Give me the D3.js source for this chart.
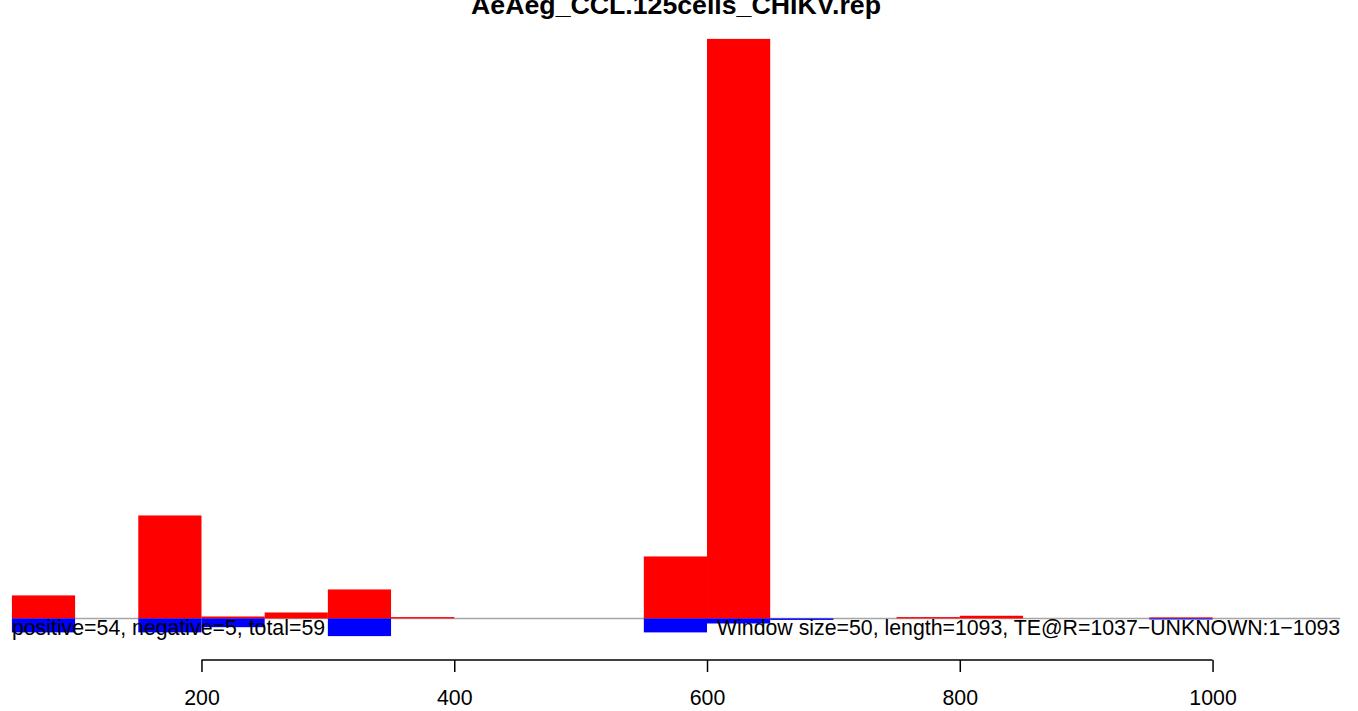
<!DOCTYPE html>
<html>
<head>
<meta charset="utf-8">
<script src="https://cdn.jsdelivr.net/npm/d3@7"></script>
<style>
  html, body { margin: 0; padding: 0; background: #ffffff; }
  svg { display: block; font-family: "Liberation Sans", Arial, Helvetica, sans-serif; }
</style>
</head>
<body>
<svg id="chart" width="1358" height="711"></svg>
<script>
// ---- data ----
const chartTitle = "AeAeg_CCL.125cells_CHIKV.rep";
const windowSize = 50;
const binStarts = [50, 100, 150, 200, 250, 300, 350, 400, 450, 500, 550, 600, 650, 700, 750, 800, 850, 900, 950, 1000, 1050];
const positiveValues = [1.55, 0, 6.93, 0.13, 0.40, 1.95, 0.09, 0, 0, 0, 4.17, 39, 0, 0, 0.09, 0.18, 0, 0, 0.07, 0, 0];
const negativeValues = [0.94, 0, 0.94, 0.59, 0, 1.19, 0, 0, 0, 0, 0.94, 0.34, 0.10, 0, 0, 0, 0, 0, 0.07, 0, 0];
const xTickValues = [200, 400, 600, 800, 1000];
const xDomain = [50, 1101];
const leftNote = "positive=54, negative=5, total=59";
const rightNote = "Window size=50, length=1093, TE@R=1037\u2212UNKNOWN:1\u22121093";

// ---- layout ----
const W = 1358, H = 711;
const plot = { left: 11.9, right: 1340.2, top: 15, bottom: 660 };
const baseFont = 21.3;

const svg = d3.select("#chart");

const x = d3.scaleLinear().domain(xDomain).range([plot.left, plot.right]);

const yMax = d3.max(positiveValues);
const yMin = -d3.max(negativeValues);
const pad = 0.04 * (yMax - yMin);
const y = d3.scaleLinear().domain([yMin - pad, yMax + pad]).range([plot.bottom, plot.top]);

// baseline
svg.append("line")
  .attr("x1", plot.left).attr("x2", plot.right)
  .attr("y1", y(0)).attr("y2", y(0))
  .attr("stroke", "#a6a6a6").attr("stroke-width", 1.5);

const bins = binStarts.map((s, i) => ({ start: s, pos: positiveValues[i], neg: negativeValues[i] }));

// positive (red) bars
svg.append("g").selectAll("rect")
  .data(bins.filter(d => d.pos > 0))
  .join("rect")
  .attr("x", d => x(d.start))
  .attr("width", d => x(d.start + windowSize) - x(d.start))
  .attr("y", d => y(d.pos))
  .attr("height", d => y(0) - y(d.pos))
  .attr("fill", "#ff0000");

// negative (blue) bars
svg.append("g").selectAll("rect")
  .data(bins.filter(d => d.neg > 0))
  .join("rect")
  .attr("x", d => x(d.start))
  .attr("width", d => x(d.start + windowSize) - x(d.start))
  .attr("y", y(0))
  .attr("height", d => y(-d.neg) - y(0))
  .attr("fill", "#0000ff");

// notes
svg.append("text")
  .attr("x", plot.left).attr("y", 635)
  .attr("font-size", baseFont).attr("fill", "#000")
  .text(leftNote);
svg.append("text")
  .attr("x", plot.right).attr("y", 635)
  .attr("text-anchor", "end")
  .attr("font-size", baseFont).attr("fill", "#000")
  .text(rightNote);

// x axis
const axis = d3.axisBottom(x)
  .tickValues(xTickValues)
  .tickFormat(d3.format("d"))
  .tickSize(12)
  .tickPadding(18);
const gAxis = svg.append("g")
  .attr("transform", `translate(0,${plot.bottom})`)
  .call(axis);
gAxis.select(".domain")
  .attr("d", `M${x(xTickValues[0])},0H${x(xTickValues[xTickValues.length - 1])}`)
  .attr("stroke", "#000").attr("stroke-width", 1.5);
gAxis.selectAll(".tick line").attr("stroke", "#000").attr("stroke-width", 1.5);
gAxis.selectAll(".tick text")
  .attr("font-size", baseFont)
  .attr("font-family", "'Liberation Sans', Arial, Helvetica, sans-serif")
  .attr("fill", "#000");

// title
svg.append("text")
  .attr("x", (plot.left + plot.right) / 2).attr("y", 13.5)
  .attr("text-anchor", "middle")
  .attr("font-size", 26.7).attr("font-weight", "bold")
  .attr("fill", "#000")
  .text(chartTitle);
</script>
</body>
</html>
